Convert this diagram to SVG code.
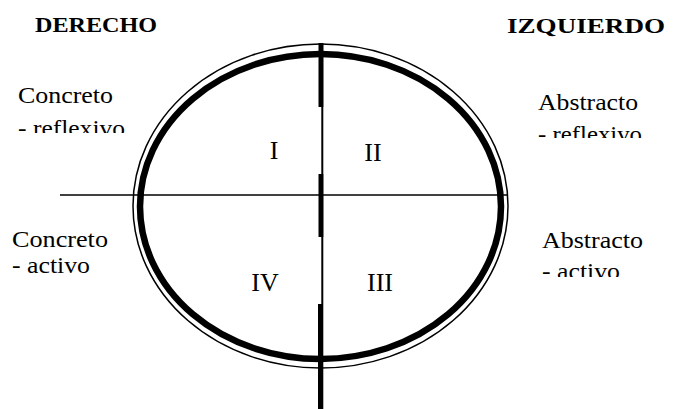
<svg xmlns="http://www.w3.org/2000/svg" width="683" height="409" viewBox="0 0 683 409">
<style>
.lbl{font-family:"Liberation Serif","Times New Roman",serif;font-size:23px;fill:#000}
.hd{font-family:"Liberation Serif","Times New Roman",serif;font-size:22px;font-weight:bold;fill:#000}
.num{font-family:"Liberation Serif","Times New Roman",serif;font-size:26px;fill:#000;text-anchor:middle}
.ln{stroke:#000;fill:none}
</style>
<defs>
<clipPath id="cl1"><rect x="0" y="0" width="200" height="133"/></clipPath>
<clipPath id="cr1"><rect x="500" y="0" width="183" height="138"/></clipPath>
<clipPath id="cr2"><rect x="500" y="200" width="183" height="77"/></clipPath>
</defs>
<rect width="683" height="409" fill="#fff"/>
<g id="circle">
<ellipse class="ln" cx="320.5" cy="206" rx="187.5" ry="162" stroke-width="1.5"/>
<ellipse class="ln" cx="320.5" cy="206.5" rx="180.5" ry="152.5" stroke-width="6.5"/>
</g>
<g id="connectors">
<line class="ln" x1="60" y1="195" x2="508" y2="195" stroke-width="1.6"/>
<line class="ln" x1="322.3" y1="43" x2="322.3" y2="409" stroke-width="2"/>
<rect x="318.5" y="43" width="4.8" height="64" fill="#000"/>
<rect x="318.5" y="174" width="4.8" height="63" fill="#000"/>
<rect x="318" y="304" width="5" height="105" fill="#000"/>
</g>
<g id="headings">
<text class="hd" x="35" y="32" textLength="122" lengthAdjust="spacingAndGlyphs">DERECHO</text>
<text class="hd" x="507" y="33" textLength="158" lengthAdjust="spacingAndGlyphs">IZQUIERDO</text>
</g>
<g id="label-concreto-reflexivo">
<text class="lbl" x="18" y="103" textLength="95" lengthAdjust="spacingAndGlyphs">Concreto</text>
<text class="lbl" x="18" y="136" textLength="107" lengthAdjust="spacingAndGlyphs" clip-path="url(#cl1)">- reflexivo</text>
</g>
<g id="label-abstracto-reflexivo">
<text class="lbl" x="538" y="110" textLength="100" lengthAdjust="spacingAndGlyphs">Abstracto</text>
<text class="lbl" x="538" y="142" textLength="104" lengthAdjust="spacingAndGlyphs" clip-path="url(#cr1)">- reflexivo</text>
</g>
<g id="label-concreto-activo">
<text class="lbl" x="12" y="247" textLength="96" lengthAdjust="spacingAndGlyphs">Concreto</text>
<text class="lbl" x="12" y="273" textLength="78" lengthAdjust="spacingAndGlyphs">- activo</text>
</g>
<g id="label-abstracto-activo">
<text class="lbl" x="542" y="248" textLength="101" lengthAdjust="spacingAndGlyphs">Abstracto</text>
<text class="lbl" x="542" y="279" textLength="78" lengthAdjust="spacingAndGlyphs" clip-path="url(#cr2)">- activo</text>
</g>
<g id="quadrant-I"><text class="num" x="274" y="159">I</text></g>
<g id="quadrant-II"><text class="num" x="373" y="161">II</text></g>
<g id="quadrant-IV"><text class="num" x="265" y="291">IV</text></g>
<g id="quadrant-III"><text class="num" x="380" y="291">III</text></g>
</svg>
